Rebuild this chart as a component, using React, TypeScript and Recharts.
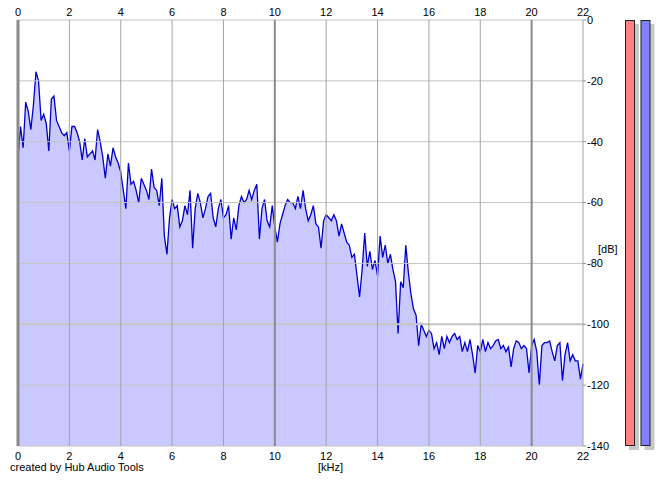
import React from 'react';
import { Area, AreaChart, Bar, BarChart, ReferenceLine, XAxis, YAxis } from 'recharts';

// spectrum in dB, one value every 0.1 kHz
const FREQ_STEP = 0.1;
const spectrum0to4 = [
  -45, -35, -42, -27, -30, -36, -28, -17, -20, -33,
  -31, -34, -43, -26, -25, -33, -35, -37, -38, -37,
  -43, -35, -35, -37, -40, -46, -39, -45, -44, -43,
  -46, -36, -40, -45, -52, -44, -48, -42, -45, -47,
];
const spectrum4to8 = [
  -50, -56, -62, -47, -54, -53, -56, -60, -52, -54,
  -56, -59, -49, -55, -56, -61, -52, -71, -77, -65,
  -59, -62, -61, -68, -66, -61, -64, -56, -75, -62,
  -57, -60, -65, -62, -58, -57, -65, -68, -62, -59,
];
const spectrum8to12 = [
  -65, -64, -61, -72, -65, -69, -61, -58, -60, -59,
  -56, -59, -56, -54, -72, -62, -59, -66, -68, -61,
  -68, -73, -67, -64, -61, -59, -60, -60, -62, -58,
  -62, -56, -62, -66, -64, -61, -67, -68, -75, -66,
];
const spectrum12to16 = [
  -64, -65, -66, -64, -66, -71, -67, -70, -73, -74,
  -78, -77, -84, -91, -82, -70, -81, -76, -82, -79,
  -84, -71, -78, -74, -80, -77, -82, -86, -103, -86,
  -88, -74, -83, -90, -95, -97, -107, -100, -102, -104,
];
const spectrum16to20 = [
  -102, -103, -108, -106, -110, -104, -108, -104, -106, -104,
  -103, -105, -104, -109, -106, -109, -105, -110, -116, -107,
  -109, -105, -109, -106, -108, -107, -105.5, -105, -108, -107,
  -109, -107.5, -114, -108, -105.5, -106, -108, -107, -108, -116,
];
const spectrum20to22 = [
  -107, -105, -109, -120, -107, -106, -106, -105.5, -109, -112,
  -107, -106, -118.5, -110, -106, -112, -110, -112, -112, -118, -113,
];

const freqTicks = [0, 2, 4, 6, 8, 10, 12, 14, 16, 18, 20, 22];
const dbTicks = [0, -20, -40, -60, -80, -100, -120, -140];
const majorFreqs = [0, 10, 20];
const majorDb = [-100];

const meterChannels = ['L', 'R'];
const meterFloor = -140;
const meterPeaks = [0, 0];
const meterColors = ['#ff8080', '#8080ff'];

const spectrum = [
  ...spectrum0to4,
  ...spectrum4to8,
  ...spectrum8to12,
  ...spectrum12to16,
  ...spectrum16to20,
  ...spectrum20to22,
].map((db, i) => ({ khz: Math.round(i * FREQ_STEP * 100) / 100, db }));

const meterData = meterChannels.map((ch, i) => ({ ch, level: [meterFloor, meterPeaks[i]] }));

const FONT = '"Liberation Sans", Arial, sans-serif';
const tickStyle = { fontSize: 11, fill: '#000', fontFamily: FONT };

const MeterShape = (props: any) => {
  const { x, y, width, height, index } = props;
  return (
    <g>
      <rect x={x + 4} y={y + 4} width={width} height={height} fill="#c8c8c8" />
      <rect x={x + 0.5} y={y + 0.5} width={width - 1} height={height - 1} fill={meterColors[index]} stroke="#202020" />
    </g>
  );
};

export default function App() {
  return (
    <div style={{ position: 'absolute', left: 0, top: 0, width: 665, height: 487, background: '#fff', fontFamily: FONT }}>
      <div style={{ position: 'absolute', left: 0, top: 0 }}>
        <AreaChart width={665} height={487} data={spectrum} margin={{ top: 0, right: 0, bottom: 0, left: 18 }}>
          <XAxis
            xAxisId="top"
            orientation="top"
            dataKey="khz"
            type="number"
            domain={[0, 22]}
            ticks={freqTicks}
            height={20}
            tickLine={false}
            axisLine={false}
            tickSize={0}
            tickMargin={4}
            tick={tickStyle}
          />
          <XAxis
            dataKey="khz"
            type="number"
            domain={[0, 22]}
            ticks={freqTicks}
            height={41}
            tickLine={false}
            axisLine={false}
            tickSize={0}
            tickMargin={6}
            tick={tickStyle}
            label={{
              content: (p: any) => (
                <text x={p.viewBox.x + p.viewBox.width / 2 + 30} y={p.viewBox.y + 25} textAnchor="middle" fontSize={11} fontFamily={FONT} fill="#000">
                  [kHz]
                </text>
              ),
            }}
          />
          <YAxis
            orientation="right"
            type="number"
            domain={[-140, 0]}
            ticks={dbTicks}
            width={82}
            axisLine={false}
            tickSize={3}
            tickMargin={1}
            tickLine={{ stroke: '#909090' }}
            tick={tickStyle}
            label={{
              content: (p: any) => (
                <text x={p.viewBox.x + 15} y={p.viewBox.y + p.viewBox.height / 2 + 20} fontSize={11} fontFamily={FONT} fill="#000">
                  [dB]
                </text>
              ),
            }}
          />
          {dbTicks.map((d) => (
            <ReferenceLine key={'h' + d} y={d} stroke="#c4c4c4" strokeWidth={majorDb.includes(d) ? 2 : 1} />
          ))}
          {freqTicks.map((f) => (
            <ReferenceLine
              key={'v' + f}
              x={f}
              stroke={majorFreqs.includes(f) ? '#8a8a8a' : '#a4a4a4'}
              strokeWidth={f === 0 ? 3 : majorFreqs.includes(f) ? 2 : 1}
            />
          ))}
          <Area
            type="linear"
            dataKey="db"
            baseValue="dataMin"
            stroke="#0000cc"
            strokeWidth={1.3}
            fill="#7070ff"
            fillOpacity={0.38}
            dot={false}
            activeDot={false}
            isAnimationActive={false}
          />
        </AreaChart>
      </div>
      <div style={{ position: 'absolute', left: 0, top: 0 }}>
        <BarChart width={665} height={487} data={meterData} margin={{ top: 20, right: 12, bottom: 41, left: 622 }}>
          <XAxis dataKey="ch" type="category" hide />
          <YAxis type="number" domain={[-140, 0]} hide />
          <Bar dataKey="level" barSize={10} shape={MeterShape} isAnimationActive={false} />
        </BarChart>
      </div>
      <div style={{ position: 'absolute', left: 10, top: 461, fontSize: 11, color: '#000', whiteSpace: 'nowrap' }}>
        created by Hub Audio Tools
      </div>
    </div>
  );
}
